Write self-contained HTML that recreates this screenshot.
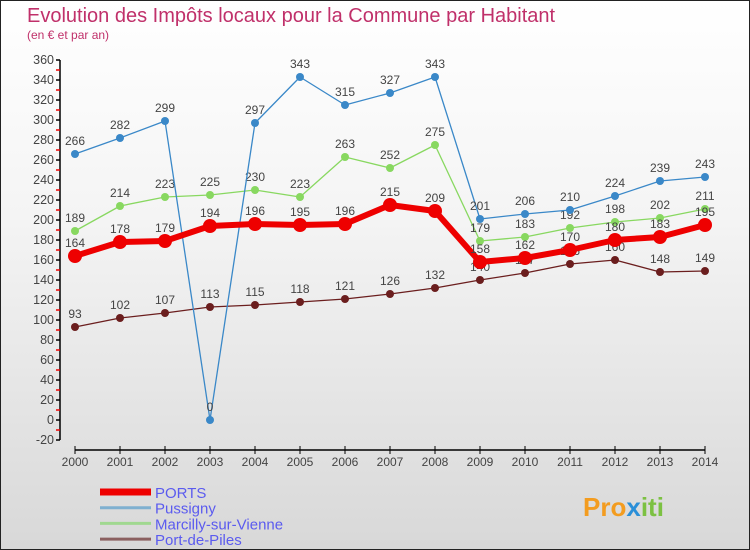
<!DOCTYPE html>
<html><head><meta charset="utf-8"><style>
body{margin:0;width:750px;height:550px;overflow:hidden;font-family:"Liberation Sans",sans-serif}
#c{position:absolute;left:0;top:0;width:748px;height:548px;border:1px solid #222;background:linear-gradient(#ffffff,#f4f4f4 40%,#d8d8d8)}
</style></head><body>
<div id="c">
<svg id="s" width="750" height="550" xmlns="http://www.w3.org/2000/svg" style="position:absolute;left:-1px;top:-1px">
<text x="27" y="22" font-size="20" fill="#c0306a">Evolution des Impôts locaux pour la Commune par Habitant</text>
<text x="27" y="39" font-size="12" fill="#c0306a">(en € et par an)</text>
<g id="axes"></g><g id="series"></g>
<g id="legend"></g>
<text x="583" y="516" font-size="26" font-weight="bold" fill="#f39c1f">Pro<tspan fill="#2a8fd8">x</tspan><tspan fill="#7cc142">iti</tspan></text>
</svg></div>
<script>
const years=[2000,2001,2002,2003,2004,2005,2006,2007,2008,2009,2010,2011,2012,2013,2014];
const ports=[164,178,179,194,196,195,196,215,209,158,162,170,180,183,195];
const pussigny=[266,282,299,0,297,343,315,327,343,201,206,210,224,239,243];
const marcilly=[189,214,223,225,230,223,263,252,275,179,183,192,198,202,211];
const portDePiles=[93,102,107,113,115,118,121,126,132,140,147,156,160,148,149];
const yTicks=[-20,0,20,40,60,80,100,120,140,160,180,200,220,240,260,280,300,320,340,360];
const NS="http://www.w3.org/2000/svg";
const X=i=>75+i*45, Y=v=>420-v;
function mk(p,t,a){const e=document.createElementNS(NS,t);for(const k in a)e.setAttribute(k,a[k]);p.appendChild(e);return e;}
const ax=document.getElementById('axes');
const yl=mk(ax,'line',{x1:60,y1:Y(360),x2:60,y2:Y(-20),stroke:'#000','stroke-width':1.5});


yTicks.forEach(v=>{
 mk(ax,'line',{x1:56,y1:Y(v),x2:60,y2:Y(v),stroke:'#000','stroke-width':1.5});
 if(v<360) mk(ax,'line',{x1:56,y1:Y(v+10),x2:60,y2:Y(v+10),stroke:'#e00','stroke-width':1.5});
 const t=mk(ax,'text',{x:54,y:Y(v)+4,'font-size':12.5,'text-anchor':'end',fill:'#444'});t.textContent=v;
 
 
});
const xl=mk(ax,'line',{x1:75,y1:450,x2:705,y2:450,stroke:'#000','stroke-width':1.5});


years.forEach((y,i)=>{
 mk(ax,'line',{x1:X(i),y1:446,x2:X(i),y2:454,stroke:'#000'});
 const t=mk(ax,'text',{x:X(i),y:466,'font-size':12,'text-anchor':'middle',fill:'#444'});t.textContent=y;
 
 
});
const sg=document.getElementById('series');
function series(d,name,col,w,r){
 const g=mk(sg,'g',{});
 
 
 mk(g,'polyline',{points:d.map((v,i)=>X(i)+','+Y(v)).join(' '),fill:'none',stroke:col,'stroke-width':w,'stroke-linejoin':'round'});
 d.forEach((v,i)=>{
  const c=mk(g,'circle',{cx:X(i),cy:Y(v),r:r,fill:col});
  
  
  const t=mk(g,'text',{x:X(i),y:Y(v)-9,'font-size':12,'text-anchor':'middle',fill:'#444'});t.textContent=v;
  
  
 });
}
series(portDePiles,'port-de-piles','#6b1e1e',1.3,4);
series(marcilly,'marcilly','#88d860',1.3,4);
series(pussigny,'pussigny','#3a88c8',1.3,4);
series(ports,'ports','#ee0000',6,7);
const lg=document.getElementById('legend');
[['PORTS','#ee0000',7],['Pussigny','#7fb0d0',3],['Marcilly-sur-Vienne','#a0d890',3],['Port-de-Piles','#8b6060',3]].forEach((e,i)=>{
 const y=492+i*15.7;
 const l=mk(lg,'line',{x1:100,y1:y,x2:151,y2:y,stroke:e[1],'stroke-width':e[2]});
 
 
 const t=mk(lg,'text',{x:155,y:y+6,'font-size':15,fill:'#5b5bef'});t.textContent=e[0];
 
 
});
</script>
</body></html>
